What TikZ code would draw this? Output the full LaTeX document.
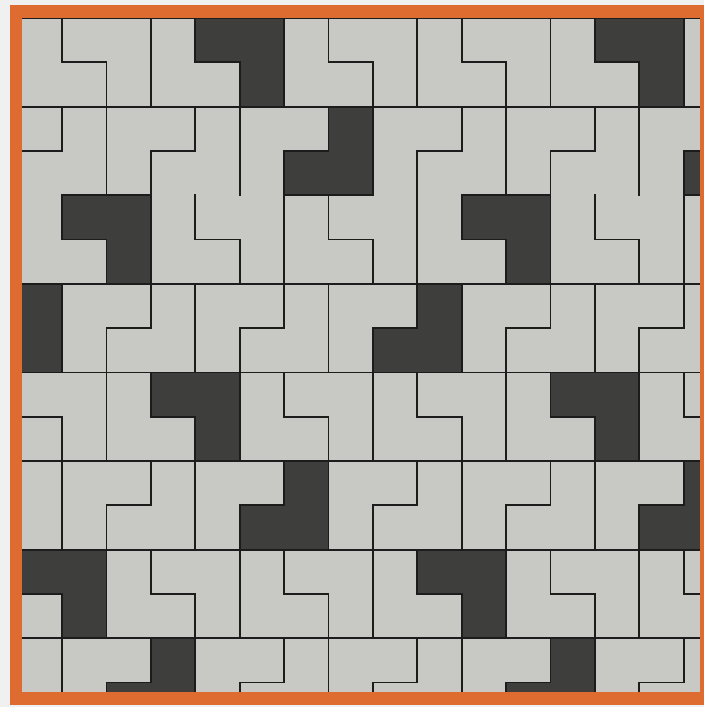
\documentclass[tikz,border=0pt]{standalone}
\usetikzlibrary{calc}

\definecolor{tilegrey}{RGB}{200,200,196}
\definecolor{tiledark}{RGB}{62,62,60}
\definecolor{seamcol}{RGB}{28,28,28}
\definecolor{framecol}{RGB}{222,108,48}
\definecolor{paper}{RGB}{240,240,240}

\begin{document}
\begin{tikzpicture}[
  x=1pt, y=-1pt,
  seam/.style={draw=seamcol, line width=1.8pt, line cap=rect},
  darkpiece/.style={fill=tiledark, draw=seamcol, line width=1.8pt},
  frame/.style={draw=framecol, line width=12.5pt}
]
\useasboundingbox (0,0) rectangle (704,707);
\fill[paper] (0,0) rectangle (704,707);

\begin{scope}
\clip (22,17) rectangle (701,694);
\fill[tilegrey] (22,17) rectangle (701,694);

% ===== Grid: one unit = one cell, rows counted downwards =====
\begin{scope}[shift={(17.7,18)}, x=44.4pt, y=-44.3pt]

% ----- Dark L pieces: notch bottom-left -----
\foreach \a/\d in {0/4, 0/13, 4/1, 4/10, 8/3, 8/12, 12/0, 12/9}
  \path[darkpiece] (\d,\a) -- ++(2,0) -- ++(0,2) -- ++(-1,0) -- ++(0,-1) -- ++(-1,0) -- cycle;

% ----- Dark L pieces: notch top-left -----
\foreach \a/\d in {2/6, 2/15, 6/-1, 6/8, 10/5, 10/14, 14/2, 14/11}
  \path[darkpiece] (\d+1,\a) -- ++(1,0) -- ++(0,2) -- ++(-2,0) -- ++(0,-1) -- ++(1,0) -- cycle;

% ----- Seams, bands with the step going down -----
\foreach \a/\f in {0/0, 4/0, 8/2, 12/2}
  \foreach \k in {-1,...,6}
    \draw[seam] (3*\k+\f,\a) -- ++(0,2)
                (3*\k+\f+1,\a) -- ++(0,1) -- ++(1,0) -- ++(0,1);

% ----- Seams, bands with the step going up -----
\foreach \a/\f in {2/2, 6/1, 10/1, 14/1}
  \foreach \k in {-1,...,6}
    \draw[seam] (3*\k+\f,\a) -- ++(0,2)
                (3*\k+\f+1,\a+2) -- ++(0,-1) -- ++(1,0) -- ++(0,-1);

% ----- Full rows between bands (row 4 is left open) -----
\foreach \r in {0,2,6,8,10,12,14,16}
  \draw[seam] (-1,\r) -- (17,\r);

\end{scope}
\end{scope}

% ===== Orange frame =====
\draw[frame] (16,11.5) rectangle (706.5,698.5);
\end{tikzpicture}
\end{document}
